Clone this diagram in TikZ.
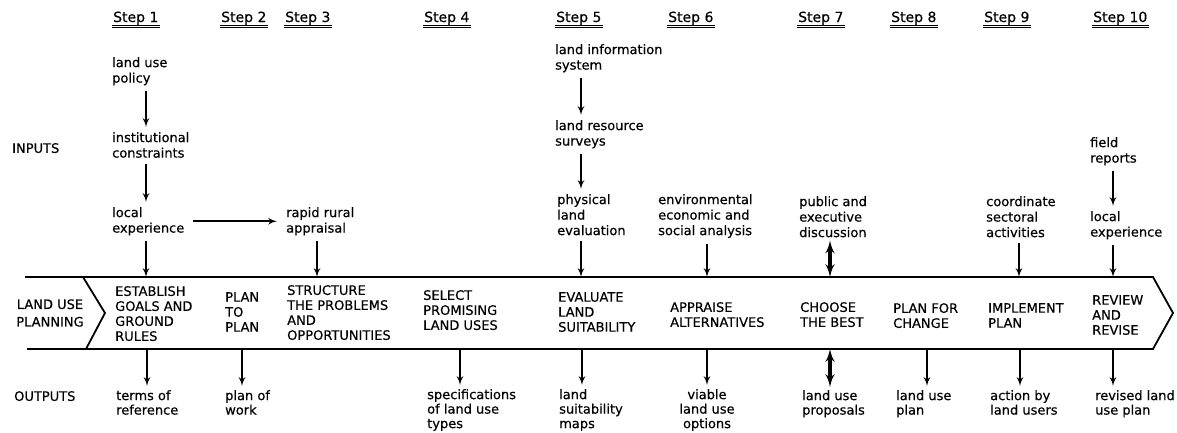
\documentclass[tikz,border=0pt]{standalone}
\usepackage{fontspec}
\setmainfont{DejaVu Sans}[FakeBold=0.4]
\usetikzlibrary{arrows}

\begin{document}
\begin{tikzpicture}[x=1pt,y=-1pt]
        \tikzset{txt/.style = {anchor=north west,align=left,inner sep=0pt,font=\fontsize{13}{15.5}\selectfont}};
        \tikzset{caps/.style = {txt,font=\fontsize{13}{15}\selectfont}};
        \tikzset{outtxt/.style = {txt,font=\fontsize{13}{14.5}\selectfont}};
        \tikzset{stephead/.style = {anchor=base west,inner sep=1pt,font=\fontsize{14}{16}\selectfont}};
        \tikzset{underline/.style = {double,double distance=1.2pt,line width=0.9pt}};
        \tikzset{band/.style = {line width=1.8pt,line join=miter}};
        \tikzset{edge/.style = {->,> = latex',line width=2pt,shorten <=6pt,shorten >=5pt}};
        \tikzset{feed/.style = {edge,shorten >=0pt}};
        \tikzset{yield/.style = {edge,shorten <=0pt,shorten >=4pt}};
        \tikzset{dedge/.style = {<->,> = latex',line width=3.4pt,shorten <=3pt,shorten >=0pt}};
        \useasboundingbox (0,0) rectangle (1177,432);
        % steps
        \node[stephead] (h1) at (112,22) {Step 1};
        \node[stephead] (h2) at (220,22) {Step 2};
        \node[stephead] (h3) at (284,22) {Step 3};
        \node[stephead] (h4) at (423,22) {Step 4};
        \node[stephead] (h5) at (555,22) {Step 5};
        \node[stephead] (h6) at (667,22) {Step 6};
        \node[stephead] (h7) at (797,22) {Step 7};
        \node[stephead] (h8) at (890,22) {Step 8};
        \node[stephead] (h9) at (983,22) {Step 9};
        \node[stephead] (h10) at (1092,22) {Step 10};
        \draw[underline] (h1.south west) -- (h1.south east);
        \draw[underline] (h2.south west) -- (h2.south east);
        \draw[underline] (h3.south west) -- (h3.south east);
        \draw[underline] (h4.south west) -- (h4.south east);
        \draw[underline] (h5.south west) -- (h5.south east);
        \draw[underline] (h6.south west) -- (h6.south east);
        \draw[underline] (h7.south west) -- (h7.south east);
        \draw[underline] (h8.south west) -- (h8.south east);
        \draw[underline] (h9.south west) -- (h9.south east);
        \draw[underline] (h10.south west) -- (h10.south east);
        % row labels
        \node[caps] (inp) at (12,143) {INPUTS};
        \node[caps,anchor=center,align=center,font=\fontsize{13}{17.5}\selectfont] (lup) at (50,313) {LAND USE\\PLANNING};
        \node[caps] (outp) at (14,391) {OUTPUTS};
        % inputs
        \node[txt] (a1) at (112,57) {land use\\policy};
        \node[txt] (a2) at (112,132) {institutional\\constraints};
        \node[txt] (a3) at (112,207) {local\\experience};
        \node[txt] (r) at (286,207) {rapid rural\\appraisal};
        \node[txt] (b1) at (555,44) {land information\\system};
        \node[txt] (b2) at (555,120) {land resource\\surveys};
        \node[txt] (b3) at (557,194) {physical\\land\\evaluation};
        \node[txt] (c1) at (658,194) {environmental\\economic and\\social analysis};
        \node[txt] (d1) at (799,196) {public and\\executive\\discussion};
        \node[txt] (e1) at (986,196) {coordinate\\sectoral\\activities};
        \node[txt] (f1) at (1090,137) {field\\reports};
        \node[txt] (f2) at (1090,211) {local\\experience};
        % the planning band
        \draw[band] (25,277) -- (1153,277) -- (1173,313) -- (1153,349) -- (27,349);
        \draw[band] (83,277) -- (105,313) -- (86,349);
        \node[caps] (p1) at (115,286) {ESTABLISH\\GOALS AND\\GROUND\\RULES};
        \node[caps] (p2) at (225,292) {PLAN\\TO\\PLAN};
        \node[caps] (p3) at (287,285) {STRUCTURE\\THE PROBLEMS\\AND\\OPPORTUNITIES};
        \node[caps] (p4) at (423,290) {SELECT\\PROMISING\\LAND USES};
        \node[caps] (p5) at (558,292) {EVALUATE\\LAND\\SUITABILITY};
        \node[caps] (p6) at (670,302) {APPRAISE\\ALTERNATIVES};
        \node[caps] (p7) at (800,302) {CHOOSE\\THE BEST};
        \node[caps] (p8) at (893,303) {PLAN FOR\\CHANGE};
        \node[caps] (p9) at (988,303) {IMPLEMENT\\PLAN};
        \node[caps] (p10) at (1092,295) {REVIEW\\AND\\REVISE};
        \coordinate (t1) at (146,277);
        \coordinate (t3) at (317,277);
        \coordinate (t5) at (581,277);
        \coordinate (t6) at (707,277);
        \coordinate (t7) at (830,277);
        \coordinate (t9) at (1019,277);
        \coordinate (t10) at (1113,277);
        \coordinate (u1) at (147,349);
        \coordinate (u2) at (242,349);
        \coordinate (u4) at (460,349);
        \coordinate (u5) at (582,349);
        \coordinate (u6) at (707,349);
        \coordinate (u7) at (830,349);
        \coordinate (u8) at (927,349);
        \coordinate (u9) at (1020,349);
        \coordinate (u10) at (1113,349);
        % outputs
        \node[outtxt] (o1) at (116,390) {terms of\\reference};
        \node[outtxt] (o2) at (225,390) {plan of\\work};
        \node[outtxt] (o4) at (427,389) {specifications\\of land use\\types};
        \node[outtxt] (o5) at (559,389) {land\\suitability\\maps};
        \node[outtxt,anchor=north,align=center] (o6) at (707,389) {viable\\land use\\options};
        \node[outtxt] (o7) at (802,390) {land use\\proposals};
        \node[outtxt] (o8) at (896,390) {land use\\plan};
        \node[outtxt] (o9) at (990,390) {action by\\land users};
        \node[outtxt] (o10) at (1095,390) {revised land\\use plan};
        % arrows
        \draw[edge] (a1.south -| t1) to (a2.north -| t1);
        \draw[edge] (a2.south -| t1) to (a3.north -| t1);
        \draw[edge,shorten <=9pt,shorten >=9pt] (a3) to (r);
        \draw[feed] (a3.south -| t1) to (t1);
        \draw[feed] (r.south -| t3) to (t3);
        \draw[edge] (b1.south -| t5) to (b2.north -| t5);
        \draw[edge] (b2.south -| t5) to (b3.north -| t5);
        \draw[feed] (b3.south -| t5) to (t5);
        \draw[feed] (c1.south -| t6) to (t6);
        \draw[dedge] (d1.south -| t7) to (t7);
        \draw[feed] (e1.south -| t9) to (t9);
        \draw[edge] (f1.south -| t10) to (f2.north -| t10);
        \draw[feed] (f2.south -| t10) to (t10);
        \draw[yield] (u1) to (o1.north -| u1);
        \draw[yield] (u2) to (o2.north -| u2);
        \draw[yield] (u4) to (o4.north -| u4);
        \draw[yield] (u5) to (o5.north -| u5);
        \draw[yield] (u6) to (o6.north -| u6);
        \draw[dedge] (o7.north -| u7) to (u7);
        \draw[yield] (u8) to (o8.north -| u8);
        \draw[yield] (u9) to (o9.north -| u9);
        \draw[yield] (u10) to (o10.north -| u10);
    \end{tikzpicture}
\end{document}
